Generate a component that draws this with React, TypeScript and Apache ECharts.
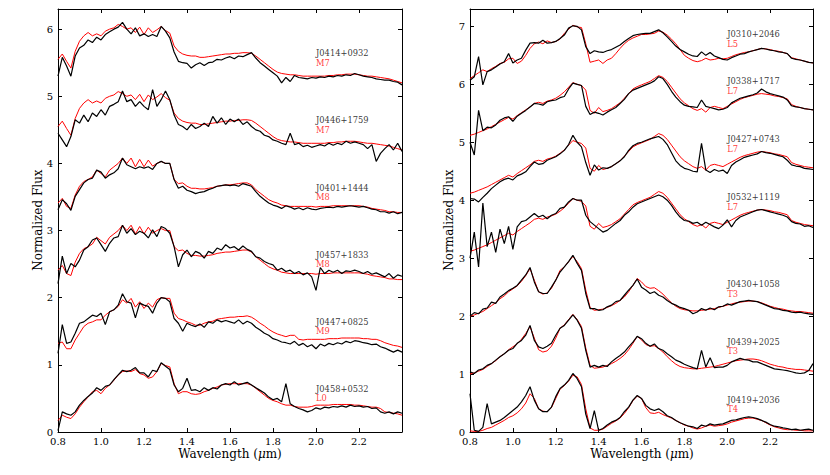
import { useEffect, useRef } from "react";
import * as echarts from "echarts";

// Wavelength sampling grid (micron)
const WAVE = [
  0.80, 0.82, 0.84, 0.86, 0.88, 0.90, 0.92, 0.94, 0.96, 0.98,
  1.00, 1.02, 1.04, 1.06, 1.08, 1.10, 1.12, 1.14, 1.16, 1.18,
  1.20, 1.22, 1.24, 1.26, 1.28, 1.30, 1.32, 1.34, 1.36, 1.38,
  1.40, 1.42, 1.44, 1.46, 1.48, 1.50, 1.52, 1.54, 1.56, 1.58,
  1.60, 1.62, 1.64, 1.66, 1.68, 1.70, 1.72, 1.74, 1.76, 1.78,
  1.80, 1.82, 1.84, 1.86, 1.88, 1.90, 1.92, 1.94, 1.96, 1.98,
  2.00, 2.02, 2.04, 2.06, 2.08, 2.10, 2.12, 2.14, 2.16, 2.18,
  2.20, 2.22, 2.24, 2.26, 2.28, 2.30, 2.32, 2.34, 2.36, 2.38,
  2.40,
];

// ---- Template (model) spectra, relative to each object's offset ----
const M7 = [
  0.55, 0.63, 0.52, 0.42, 0.67, 0.82, 0.90, 0.95, 0.90, 0.93,
  0.90, 0.97, 1.00, 1.02, 1.07, 1.04, 1.00, 1.02, 0.95, 1.03,
  0.92, 1.02, 0.95, 0.99, 1.04, 0.98, 0.94, 0.75, 0.67, 0.63,
  0.61, 0.60, 0.60, 0.58, 0.58, 0.59, 0.60, 0.61, 0.62, 0.63,
  0.63, 0.64, 0.64, 0.65, 0.65, 0.64, 0.60, 0.55, 0.50, 0.45,
  0.40, 0.36, 0.34, 0.33, 0.32, 0.32, 0.31, 0.30, 0.30, 0.30,
  0.30, 0.30, 0.30, 0.31, 0.31, 0.32, 0.32, 0.33, 0.33, 0.33,
  0.32, 0.31, 0.30, 0.30, 0.29, 0.28, 0.27, 0.26, 0.24, 0.22,
  0.20,
];
const M8 = [
  0.41, 0.48, 0.36, 0.33, 0.53, 0.66, 0.73, 0.76, 0.80, 0.90,
  0.85, 0.80, 0.90, 0.95, 1.00, 1.08, 1.00, 1.08, 0.95, 1.06,
  0.95, 1.05, 0.96, 1.00, 1.03, 1.00, 1.00, 0.76, 0.70, 0.71,
  0.66, 0.63, 0.63, 0.62, 0.62, 0.63, 0.64, 0.66, 0.67, 0.68,
  0.68, 0.69, 0.70, 0.71, 0.71, 0.68, 0.61, 0.56, 0.51, 0.46,
  0.43, 0.41, 0.38, 0.37, 0.36, 0.36, 0.36, 0.36, 0.36, 0.36,
  0.35, 0.36, 0.36, 0.36, 0.37, 0.37, 0.37, 0.37, 0.37, 0.37,
  0.37, 0.36, 0.35, 0.33, 0.32, 0.31, 0.30, 0.28, 0.28, 0.27,
  0.27,
];
const M9 = [
  0.32, 0.34, 0.24, 0.24, 0.37, 0.47, 0.57, 0.62, 0.64, 0.67,
  0.67, 0.74, 0.79, 0.82, 0.87, 0.97, 0.92, 0.99, 0.86, 0.94,
  0.84, 0.92, 0.86, 0.97, 1.00, 0.99, 0.99, 0.77, 0.69, 0.67,
  0.64, 0.62, 0.59, 0.59, 0.62, 0.64, 0.65, 0.68, 0.69, 0.70,
  0.71, 0.71, 0.72, 0.72, 0.73, 0.71, 0.67, 0.62, 0.58, 0.53,
  0.49, 0.46, 0.44, 0.42, 0.44, 0.44, 0.38, 0.37, 0.38, 0.38,
  0.38, 0.38, 0.38, 0.39, 0.39, 0.39, 0.40, 0.40, 0.40, 0.40,
  0.40, 0.39, 0.39, 0.38, 0.38, 0.36, 0.33, 0.31, 0.29, 0.28,
  0.26,
];
const L0 = [
  0.17, 0.25, 0.22, 0.20, 0.27, 0.37, 0.45, 0.52, 0.60, 0.62,
  0.57, 0.65, 0.70, 0.77, 0.85, 0.90, 0.91, 0.90, 0.93, 0.87,
  0.85, 0.80, 0.82, 0.90, 1.02, 0.99, 0.97, 0.72, 0.57, 0.60,
  0.60, 0.57, 0.56, 0.57, 0.60, 0.62, 0.65, 0.67, 0.70, 0.71,
  0.72, 0.72, 0.72, 0.72, 0.72, 0.70, 0.65, 0.60, 0.55, 0.50,
  0.47, 0.45, 0.42, 0.40, 0.40, 0.38, 0.37, 0.37, 0.37, 0.38,
  0.40, 0.40, 0.40, 0.40, 0.41, 0.41, 0.41, 0.41, 0.41, 0.40,
  0.40, 0.39, 0.38, 0.37, 0.37, 0.35, 0.30, 0.29, 0.28, 0.27,
  0.25,
];
const L5 = [
  0.10, 0.15, 0.20, 0.25, 0.22, 0.27, 0.31, 0.36, 0.38, 0.44,
  0.45, 0.36, 0.40, 0.50, 0.62, 0.70, 0.73, 0.70, 0.75, 0.72,
  0.74, 0.78, 0.88, 0.95, 1.02, 0.99, 0.98, 0.70, 0.38, 0.40,
  0.42, 0.36, 0.42, 0.45, 0.53, 0.62, 0.70, 0.76, 0.80, 0.83,
  0.86, 0.86, 0.87, 0.88, 0.92, 0.90, 0.85, 0.78, 0.70, 0.60,
  0.50, 0.45, 0.41, 0.39, 0.41, 0.45, 0.42, 0.43, 0.45, 0.44,
  0.45, 0.48, 0.51, 0.53, 0.55, 0.56, 0.58, 0.60, 0.62, 0.61,
  0.60, 0.58, 0.57, 0.55, 0.53, 0.46, 0.44, 0.42, 0.40, 0.38,
  0.37,
];
const L7 = [
  0.12, 0.14, 0.17, 0.20, 0.23, 0.27, 0.31, 0.35, 0.39, 0.43,
  0.40, 0.46, 0.51, 0.56, 0.61, 0.67, 0.69, 0.67, 0.71, 0.73,
  0.76, 0.81, 0.87, 0.95, 1.03, 1.00, 0.98, 0.90, 0.55, 0.50,
  0.60, 0.53, 0.55, 0.58, 0.63, 0.68, 0.76, 0.84, 0.92, 0.96,
  0.99, 1.02, 1.05, 1.10, 1.15, 1.12, 1.05, 0.95, 0.85, 0.75,
  0.68, 0.63, 0.58, 0.55, 0.58, 0.52, 0.60, 0.62, 0.60, 0.58,
  0.62, 0.66, 0.70, 0.74, 0.77, 0.79, 0.81, 0.83, 0.84, 0.83,
  0.82, 0.80, 0.79, 0.77, 0.75, 0.65, 0.62, 0.60, 0.58, 0.57,
  0.56,
];
const T3 = [
  0.00, 0.02, 0.05, 0.08, 0.13, 0.18, 0.23, 0.30, 0.35, 0.42,
  0.47, 0.52, 0.60, 0.70, 0.82, 0.62, 0.42, 0.38, 0.40, 0.48,
  0.62, 0.79, 0.85, 0.94, 1.03, 0.94, 0.82, 0.45, 0.15, 0.10,
  0.11, 0.12, 0.15, 0.18, 0.22, 0.27, 0.33, 0.42, 0.53, 0.65,
  0.59, 0.51, 0.48, 0.49, 0.44, 0.38, 0.30, 0.23, 0.17, 0.13,
  0.11, 0.10, 0.09, 0.09, 0.10, 0.11, 0.12, 0.13, 0.15, 0.17,
  0.19, 0.21, 0.23, 0.24, 0.25, 0.26, 0.26, 0.25, 0.23, 0.20,
  0.17, 0.15, 0.13, 0.12, 0.10, 0.09, 0.08, 0.08, 0.07, 0.06,
  0.05,
];
const T4 = [
  0.02, 0.01, 0.01, 0.03, 0.06, 0.08, 0.12, 0.16, 0.20, 0.25,
  0.28, 0.33, 0.40, 0.50, 0.66, 0.58, 0.40, 0.36, 0.35, 0.42,
  0.58, 0.74, 0.80, 0.88, 0.98, 0.95, 0.82, 0.40, 0.07, 0.03,
  0.03, 0.05, 0.10, 0.15, 0.19, 0.24, 0.32, 0.42, 0.54, 0.62,
  0.58, 0.42, 0.33, 0.32, 0.34, 0.30, 0.27, 0.24, 0.20, 0.16,
  0.12, 0.10, 0.07, 0.05, 0.07, 0.10, 0.12, 0.10, 0.11, 0.12,
  0.14, 0.17, 0.19, 0.21, 0.23, 0.24, 0.24, 0.22, 0.20, 0.16,
  0.12, 0.09, 0.07, 0.05, 0.04, 0.04, 0.03, 0.03, 0.02, 0.02,
  0.02,
];

// ---- Observed spectra (absolute, offset included) ----
const J0414p0932 = [
  5.30, 5.58, 5.45, 5.30, 5.60, 5.72, 5.76, 5.84, 5.80, 5.88,
  5.84, 5.92, 5.96, 6.00, 6.03, 6.10, 6.00, 5.93, 6.02, 5.90,
  5.93, 5.89, 5.92, 5.89, 6.04, 5.97, 5.87, 5.66, 5.52, 5.50,
  5.49, 5.42, 5.47, 5.50, 5.46, 5.50, 5.51, 5.55, 5.54, 5.57,
  5.59, 5.56, 5.60, 5.59, 5.62, 5.65, 5.57, 5.50, 5.45, 5.40,
  5.35, 5.30, 5.20, 5.28, 5.22, 5.31, 5.28, 5.27, 5.26, 5.28,
  5.27, 5.29, 5.28, 5.30, 5.29, 5.31, 5.30, 5.32, 5.31, 5.34,
  5.32, 5.30, 5.29, 5.28, 5.26, 5.25, 5.24, 5.24, 5.22, 5.21,
  5.17,
];
const J0446p1759 = [
  4.45, 4.35, 4.25, 4.40, 4.65, 4.60, 4.72, 4.62, 4.75, 4.70,
  4.80, 4.72, 4.85, 4.88, 4.92, 5.08, 4.92, 4.95, 4.85, 4.92,
  4.85, 4.80, 5.10, 4.85, 4.95, 5.08, 4.95, 4.72, 4.58, 4.55,
  4.50, 4.58, 4.52, 4.55, 4.60, 4.55, 4.70, 4.60, 4.68, 4.58,
  4.66, 4.62, 4.66, 4.58, 4.62, 4.55, 4.50, 4.48, 4.42, 4.40,
  4.35, 4.33, 4.30, 4.28, 4.45, 4.28, 4.30, 4.25, 4.27, 4.24,
  4.26, 4.28, 4.26, 4.30, 4.27, 4.30, 4.28, 4.33, 4.30, 4.32,
  4.30, 4.28, 4.22, 4.28, 4.03, 4.15, 4.22, 4.28, 4.20, 4.30,
  4.18,
];
const J0401p1444 = [
  3.31, 3.46, 3.40, 3.30, 3.51, 3.61, 3.71, 3.76, 3.78, 3.90,
  3.87, 3.78, 3.83, 3.86, 3.92, 4.08, 3.98, 3.95, 3.92, 3.95,
  3.93, 3.95, 3.91, 4.00, 4.03, 4.00, 4.00, 3.76, 3.63, 3.66,
  3.60, 3.58, 3.55, 3.57, 3.58, 3.61, 3.63, 3.66, 3.67, 3.68,
  3.67, 3.68, 3.66, 3.70, 3.68, 3.66, 3.58, 3.51, 3.46, 3.41,
  3.38, 3.36, 3.33, 3.37, 3.35, 3.32, 3.34, 3.31, 3.34, 3.32,
  3.31, 3.33, 3.34, 3.35, 3.34, 3.36, 3.35, 3.36, 3.37, 3.36,
  3.35, 3.36, 3.34, 3.32, 3.31, 3.28, 3.28, 3.26, 3.28, 3.25,
  3.27,
];
const J0457p1833 = [
  2.21, 2.62, 2.36, 2.51, 2.46, 2.56, 2.71, 2.76, 2.86, 2.89,
  2.79, 2.69, 2.81, 2.89, 2.91, 3.08, 2.96, 3.03, 2.94, 2.99,
  2.96, 2.89, 3.01, 2.91, 3.06, 3.03, 2.96, 2.76, 2.46, 2.64,
  2.71, 2.61, 2.69, 2.66, 2.59, 2.69, 2.66, 2.74, 2.71, 2.79,
  2.74, 2.76, 2.71, 2.77, 2.72, 2.69, 2.61, 2.59, 2.54, 2.51,
  2.49, 2.41, 2.44, 2.39, 2.41, 2.36, 2.39, 2.34, 2.37, 2.31,
  2.11, 2.45, 2.36, 2.41, 2.38, 2.41, 2.36, 2.40, 2.39, 2.41,
  2.39, 2.36, 2.39, 2.35, 2.37, 2.34, 2.31, 2.36, 2.29, 2.34,
  2.32,
];
const J0447p0825 = [
  1.17, 1.60, 1.32, 1.34, 1.47, 1.62, 1.64, 1.69, 1.74, 1.72,
  1.77, 1.60, 1.79, 1.82, 1.89, 2.06, 1.94, 1.92, 1.70, 1.92,
  1.89, 1.87, 1.77, 1.92, 2.00, 1.99, 1.94, 1.69, 1.62, 1.50,
  1.62, 1.59, 1.57, 1.61, 1.56, 1.64, 1.62, 1.67, 1.64, 1.66,
  1.64, 1.62, 1.67, 1.61, 1.65, 1.62, 1.56, 1.52, 1.47, 1.44,
  1.39, 1.37, 1.34, 1.33, 1.31, 1.35, 1.29, 1.32, 1.27, 1.30,
  1.24, 1.31, 1.28, 1.32, 1.30, 1.33, 1.31, 1.35, 1.33, 1.36,
  1.35, 1.33, 1.32, 1.30, 1.31, 1.27, 1.25, 1.22, 1.19, 1.22,
  1.19,
];
const J0458p0532 = [
  0.02, 0.30, 0.27, 0.25, 0.30, 0.40, 0.47, 0.53, 0.58, 0.66,
  0.62, 0.68, 0.70, 0.78, 0.85, 0.92, 0.90, 0.92, 0.96, 0.88,
  0.88, 0.82, 0.92, 0.90, 1.03, 0.98, 0.93, 0.70, 0.60, 0.65,
  0.80, 0.62, 0.63, 0.60, 0.66, 0.62, 0.66, 0.64, 0.70, 0.72,
  0.70, 0.75, 0.70, 0.72, 0.74, 0.70, 0.66, 0.62, 0.58, 0.52,
  0.48, 0.50, 0.45, 0.72, 0.42, 0.38, 0.35, 0.33, 0.30, 0.32,
  0.36, 0.34, 0.37, 0.36, 0.38, 0.37, 0.39, 0.37, 0.40, 0.38,
  0.39, 0.37, 0.38, 0.35, 0.36, 0.30, 0.28, 0.30, 0.27, 0.30,
  0.28,
];
const J0310p2046 = [
  6.07, 6.13, 6.48, 5.99, 6.22, 6.25, 6.30, 6.35, 6.39, 6.53,
  6.37, 6.42, 6.45, 6.59, 6.71, 6.72, 6.71, 6.76, 6.71, 6.72,
  6.74, 6.79, 6.85, 6.97, 7.01, 7.00, 6.94, 6.65, 6.53, 6.58,
  6.56, 6.55, 6.58, 6.60, 6.64, 6.68, 6.74, 6.79, 6.84, 6.86,
  6.87, 6.88, 6.88, 6.91, 6.94, 6.89, 6.82, 6.74, 6.66, 6.60,
  6.56, 6.52, 6.49, 6.48, 6.56, 6.50, 6.55, 6.49, 6.46, 6.43,
  6.42, 6.46, 6.49, 6.52, 6.53, 6.56, 6.58, 6.60, 6.62, 6.61,
  6.59, 6.58, 6.56, 6.55, 6.53, 6.45, 6.43, 6.42, 6.40, 6.38,
  6.37,
];
const J0338p1717 = [
  5.00, 4.78, 5.55, 5.20, 5.26, 5.25, 5.30, 5.38, 5.42, 5.44,
  5.36, 5.45, 5.50, 5.55, 5.61, 5.67, 5.66, 5.64, 5.70, 5.72,
  5.73, 5.77, 5.79, 5.92, 6.02, 6.00, 5.98, 5.62, 5.48, 5.52,
  5.50, 5.47, 5.52, 5.56, 5.60, 5.67, 5.74, 5.84, 5.90, 5.93,
  5.96, 5.99, 6.02, 6.06, 6.13, 6.10, 6.00, 5.88, 5.78, 5.70,
  5.64, 5.62, 5.61, 5.60, 5.73, 5.62, 5.60, 5.58, 5.56, 5.57,
  5.60, 5.68, 5.72, 5.76, 5.78, 5.80, 5.82, 5.85, 5.92, 5.87,
  5.84, 5.82, 5.80, 5.78, 5.73, 5.63, 5.61, 5.60, 5.58, 5.57,
  5.56,
];
const J0427p0743 = [
  4.03, 4.02, 3.97, 4.05, 4.12, 4.20, 4.26, 4.32, 4.36, 4.38,
  4.35, 4.42, 4.45, 4.49, 4.58, 4.66, 4.62, 4.63, 4.69, 4.72,
  4.75, 4.80, 4.86, 4.96, 5.12, 5.00, 4.92, 4.65, 4.43, 4.61,
  4.52, 4.56, 4.55, 4.58, 4.63, 4.68, 4.75, 4.86, 4.94, 4.98,
  5.00, 5.03, 5.06, 5.08, 5.10, 5.05, 4.96, 4.82, 4.68, 4.60,
  4.55, 4.53, 4.50, 4.49, 4.98, 4.52, 4.48, 4.53, 4.50, 4.52,
  4.46, 4.60, 4.66, 4.70, 4.74, 4.76, 4.78, 4.80, 4.84, 4.82,
  4.81, 4.79, 4.77, 4.75, 4.69, 4.61, 4.59, 4.58, 4.55, 4.54,
  4.53,
];
const J0532p1119 = [
  3.00, 3.45, 2.85, 3.95, 3.20, 3.45, 3.10, 3.50, 3.25, 3.55,
  3.15, 3.54, 3.63, 3.65, 3.71, 3.77, 3.71, 3.74, 3.68, 3.74,
  3.77, 3.86, 3.88, 3.97, 4.03, 4.00, 4.00, 3.74, 3.63, 3.57,
  3.51, 3.45, 3.48, 3.54, 3.60, 3.65, 3.74, 3.80, 3.88, 3.94,
  3.97, 4.00, 4.03, 4.06, 4.09, 4.06, 4.00, 3.91, 3.80, 3.71,
  3.65, 3.64, 3.60, 3.62, 3.57, 3.62, 3.58, 3.54, 3.51, 3.57,
  3.66, 3.54, 3.65, 3.71, 3.74, 3.77, 3.80, 3.83, 3.84, 3.82,
  3.80, 3.78, 3.76, 3.74, 3.71, 3.63, 3.60, 3.59, 3.55, 3.56,
  3.53,
];
const J0430p1058 = [
  2.00, 2.06, 2.04, 2.12, 2.14, 2.24, 2.22, 2.33, 2.38, 2.44,
  2.48, 2.53, 2.62, 2.71, 2.84, 2.59, 2.42, 2.39, 2.39, 2.50,
  2.62, 2.76, 2.85, 2.94, 3.05, 2.91, 2.79, 2.39, 2.13, 2.13,
  2.10, 2.11, 2.16, 2.19, 2.25, 2.27, 2.36, 2.45, 2.53, 2.64,
  2.50, 2.45, 2.39, 2.42, 2.36, 2.33, 2.27, 2.22, 2.19, 2.15,
  2.13, 2.10, 2.04, 2.07, 2.13, 2.10, 2.14, 2.11, 2.16, 2.17,
  2.21, 2.19, 2.22, 2.25, 2.26, 2.27, 2.26, 2.25, 2.22, 2.19,
  2.16, 2.13, 2.12, 2.10, 2.09, 2.07, 2.06, 2.07, 2.05, 2.04,
  2.03,
];
const J0439p2025 = [
  1.04, 1.01, 1.07, 1.09, 1.15, 1.18, 1.24, 1.30, 1.35, 1.41,
  1.44, 1.53, 1.58, 1.67, 1.84, 1.58, 1.47, 1.44, 1.48, 1.53,
  1.67, 1.79, 1.84, 1.93, 2.02, 1.93, 1.79, 1.41, 1.12, 1.15,
  1.12, 1.15, 1.13, 1.21, 1.27, 1.32, 1.38, 1.47, 1.55, 1.65,
  1.61, 1.53, 1.48, 1.52, 1.44, 1.41, 1.35, 1.30, 1.24, 1.21,
  1.17, 1.14, 1.11, 1.09, 1.41, 1.12, 1.28, 1.11, 1.12, 1.12,
  1.15, 1.21, 1.24, 1.27, 1.25, 1.24, 1.21, 1.21, 1.18, 1.15,
  1.12, 1.09, 1.08, 1.07, 1.06, 1.04, 1.02, 1.01, 1.02, 1.06,
  1.18,
];
const J0419p2036 = [
  0.66, 0.03, 0.01, 0.08, 0.49, 0.14, 0.17, 0.20, 0.25, 0.31,
  0.37, 0.43, 0.52, 0.63, 0.78, 0.55, 0.40, 0.35, 0.35, 0.43,
  0.61, 0.75, 0.81, 0.89, 1.01, 0.92, 0.78, 0.31, 0.06, 0.37,
  0.03, 0.06, 0.12, 0.17, 0.20, 0.25, 0.35, 0.43, 0.55, 0.63,
  0.58, 0.46, 0.40, 0.37, 0.40, 0.35, 0.28, 0.25, 0.20, 0.16,
  0.13, 0.10, 0.09, 0.06, 0.12, 0.10, 0.14, 0.12, 0.13, 0.14,
  0.17, 0.20, 0.21, 0.23, 0.25, 0.26, 0.25, 0.23, 0.20, 0.17,
  0.13, 0.10, 0.09, 0.07, 0.06, 0.04, 0.05, 0.03, 0.04, 0.05,
  0.03,
];

const MODELS: Record<string, number[]> = { M7, M8, M9, L0, L5, L7, T3, T4 };

// ---- Panel descriptions ----
const LEFT_NAMES = ["J0414+0932", "J0446+1759", "J0401+1444", "J0457+1833", "J0447+0825", "J0458+0532"];
const LEFT_TYPES = ["M7", "M7", "M8", "M8", "M9", "L0"];
const LEFT_OFFSETS = [5, 4, 3, 2, 1, 0];
const LEFT_OBS = [J0414p0932, J0446p1759, J0401p1444, J0457p1833, J0447p0825, J0458p0532];
const LEFT_NAME_Y = [5.64, 4.64, 3.64, 2.64, 1.64, 0.64];
const LEFT_TYPE_Y = [5.50, 4.50, 3.50, 2.50, 1.50, 0.50];

const RIGHT_NAMES = ["J0310+2046", "J0338+1717", "J0427+0743", "J0532+1119", "J0430+1058", "J0439+2025", "J0419+2036"];
const RIGHT_TYPES = ["L5", "L7", "L7", "L7", "T3", "T3", "T4"];
const RIGHT_OFFSETS = [6, 5, 4, 3, 2, 1, 0];
const RIGHT_OBS = [J0310p2046, J0338p1717, J0427p0743, J0532p1119, J0430p1058, J0439p2025, J0419p2036];
const RIGHT_NAME_Y = [6.86, 6.05, 5.05, 4.05, 2.55, 1.55, 0.56];
const RIGHT_TYPE_Y = [6.70, 5.89, 4.89, 3.89, 2.39, 1.39, 0.40];

const X_TICKS = { min: 0.8, max: 2.4, interval: 0.2 };
const Y_LEFT = { min: 0, max: 6.3, interval: 1 };
const Y_RIGHT = { min: 0, max: 7.3, interval: 1 };
const LABEL_X = 2.0;

const FONT = "DejaVu Serif";

function xAxisDef(gridIndex: number, position: "bottom" | "top") {
  return {
    type: "value",
    gridIndex,
    position,
    min: X_TICKS.min,
    max: X_TICKS.max,
    interval: X_TICKS.interval,
    axisLine: { show: true, onZero: false, lineStyle: { color: "#000", width: 1 } },
    axisTick: { show: true, inside: true, length: 4, lineStyle: { color: "#000", width: 1 } },
    axisLabel: {
      show: position === "bottom",
      color: "#000",
      fontFamily: FONT,
      fontSize: 10,
      margin: 4,
      formatter: (v: number) => (v > 2.3 ? "" : v.toFixed(1)),
    },
    splitLine: { show: false },
  };
}

function yAxisDef(gridIndex: number, position: "left" | "right", cfg: { min: number; max: number; interval: number }) {
  return {
    type: "value",
    gridIndex,
    position,
    min: cfg.min,
    max: cfg.max,
    interval: cfg.interval,
    axisLine: { show: true, onZero: false, lineStyle: { color: "#000", width: 1 } },
    axisTick: { show: true, inside: true, length: 4, lineStyle: { color: "#000", width: 1 } },
    axisLabel: {
      show: position === "left",
      color: "#000",
      fontFamily: FONT,
      fontSize: 10,
      margin: 5,
      formatter: (v: number) => (Number.isInteger(v) ? String(v) : ""),
    },
    splitLine: { show: false },
  };
}

function panelSeries(
  axisIdx: number,
  names: string[],
  types: string[],
  offsets: number[],
  obs: number[][],
  nameY: number[],
  typeY: number[]
) {
  const out: any[] = [];
  names.forEach((name, k) => {
    const model = MODELS[types[k]];
    out.push({
      name: name + " model",
      type: "line",
      xAxisIndex: axisIdx,
      yAxisIndex: axisIdx,
      data: WAVE.map((w, i) => [w, model[i] + offsets[k]]),
      symbol: "none",
      lineStyle: { color: "#ff0000", width: 1 },
      z: 2,
      silent: true,
    });
    out.push({
      name,
      type: "line",
      xAxisIndex: axisIdx,
      yAxisIndex: axisIdx,
      data: WAVE.map((w, i) => [w, obs[k][i]]),
      symbol: "none",
      lineStyle: { color: "#000000", width: 1.2 },
      z: 3,
      silent: true,
    });
  });
  const labelData: any[] = [];
  names.forEach((name, k) => {
    labelData.push({ value: [LABEL_X, nameY[k]], label: { formatter: name, color: "#000" } });
    labelData.push({ value: [LABEL_X, typeY[k]], label: { formatter: types[k], color: "#ff0000" } });
  });
  out.push({
    type: "scatter",
    xAxisIndex: axisIdx,
    yAxisIndex: axisIdx,
    symbolSize: 0,
    itemStyle: { color: "transparent" },
    silent: true,
    z: 5,
    label: {
      show: true,
      position: "right",
      distance: 0,
      fontFamily: FONT,
      fontSize: 8.3,
      lineHeight: 8.5,
    },
    data: labelData,
  });
  return out;
}

export default function App() {
  const ref = useRef<HTMLDivElement>(null);
  useEffect(() => {
    if (!ref.current) return;
    const chart = echarts.init(ref.current, undefined, { renderer: "svg" });
    const option: any = {
      animation: false,
      backgroundColor: "#ffffff",
      grid: [
        { left: 58, top: 9, width: 344, height: 423 },
        { left: 470, top: 9, width: 343, height: 423 },
      ],
      xAxis: [
        xAxisDef(0, "bottom"),
        xAxisDef(1, "bottom"),
        xAxisDef(0, "top"),
        xAxisDef(1, "top"),
      ],
      yAxis: [
        yAxisDef(0, "left", Y_LEFT),
        yAxisDef(1, "left", Y_RIGHT),
        yAxisDef(0, "right", Y_LEFT),
        yAxisDef(1, "right", Y_RIGHT),
      ],
      series: [
        ...panelSeries(0, LEFT_NAMES, LEFT_TYPES, LEFT_OFFSETS, LEFT_OBS, LEFT_NAME_Y, LEFT_TYPE_Y),
        ...panelSeries(1, RIGHT_NAMES, RIGHT_TYPES, RIGHT_OFFSETS, RIGHT_OBS, RIGHT_NAME_Y, RIGHT_TYPE_Y),
      ],
      graphic: [
        {
          type: "text",
          x: 38,
          y: 220,
          rotation: Math.PI / 2,
          style: { text: "Normalized Flux", font: `12px '${FONT}'`, fill: "#000", align: "center", verticalAlign: "middle" },
        },
        {
          type: "text",
          x: 449,
          y: 220,
          rotation: Math.PI / 2,
          style: { text: "Normalized Flux", font: `12px '${FONT}'`, fill: "#000", align: "center", verticalAlign: "middle" },
        },
        {
          type: "text",
          x: 230,
          y: 454,
          style: {
            text: "Wavelength ({i|μ}m)",
            fontFamily: FONT,
            fontSize: 12,
            fill: "#000",
            align: "center",
            verticalAlign: "middle",
            rich: { i: { fontStyle: "italic", fontFamily: FONT, fontSize: 12, fill: "#000" } },
          },
        },
        {
          type: "text",
          x: 642,
          y: 454,
          style: {
            text: "Wavelength ({i|μ}m)",
            fontFamily: FONT,
            fontSize: 12,
            fill: "#000",
            align: "center",
            verticalAlign: "middle",
            rich: { i: { fontStyle: "italic", fontFamily: FONT, fontSize: 12, fill: "#000" } },
          },
        },
      ],
    };
    chart.setOption(option);
    return () => chart.dispose();
  }, []);
  return (
    <div
      ref={ref}
      style={{ position: "fixed", left: 0, top: 0, width: 830, height: 475, background: "#fff" }}
    />
  );
}
